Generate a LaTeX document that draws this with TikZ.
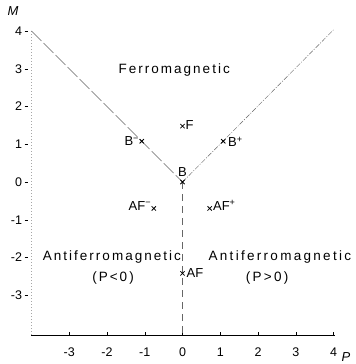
\documentclass[tikz,border=0pt]{standalone}
\usepackage{fontspec}
\setmainfont{Liberation Sans}
\newfontfamily\spacedfont[LetterSpace=15]{Liberation Sans}
\newfontfamily\widerfont[LetterSpace=17]{Liberation Sans}
\usetikzlibrary{shapes.misc}
\begin{document}
\begin{tikzpicture}[x=37.75pt,y=37.75pt,
  lab/.style={font=\fontsize{13}{13}\selectfont, inner sep=1pt},
  region/.style={font=\fontsize{13.5}{14}\spacedfont, inner sep=0pt},
  regionw/.style={font=\fontsize{13.5}{14}\widerfont, inner sep=0pt},
  ticklab/.style={font=\fontsize{12.5}{13}\selectfont, inner sep=1pt},
  pt/.style={cross out, draw, thick, minimum size=3.5pt, inner sep=0pt},
  axisline/.style={line width=0.5pt},
  bound/.style={line width=0.45pt, gray!80!black}]
\useasboundingbox (-4.834,-4.821) rectangle (4.596,4.821);
% axes
\coordinate (xa) at (-4.0,-4.05);
\coordinate (xb) at (4.03,-4.05);
\coordinate (ya) at (-4.0,-4.05);
\coordinate (yb) at (-4.0,4.0);
\draw[axisline] (xa) -- (xb);
\draw[line width=0.35pt, gray!70, dash pattern=on 1pt off 2pt] (ya) -- (yb);
\foreach \v in {-3,...,4} {
  \draw[line width=0.4pt] (\v,-4.05) -- (\v,-3.98);
  \node[ticklab] (tx\v) at (\v,-4.5) {\ifnum\v<0 -\the\numexpr-\v\relax\else\v\fi};
}
\foreach \v in {-3,...,4} {
  \draw[line width=0.4pt] (-4.18,\v) -- (-4.08,\v);
  \node[ticklab, anchor=east] (ty\v) at (-4.22,\v) {\ifnum\v<0 -\the\numexpr-\v\relax\else\v\fi};
}
\node[font=\fontsize{13}{13}\selectfont\itshape, inner sep=0pt] (Mlab) at (-4.49,4.52) {M};
\node[font=\fontsize{13}{13}\selectfont\itshape, inner sep=0pt] (Plab) at (4.33,-4.64) {P};
% phase boundaries
\coordinate (tl) at (-4.0,4.0);
\coordinate (O) at (0,0);
\coordinate (tr) at (4.0,4.03);
\coordinate (bot) at (0,-4.05);
\draw[bound, dash pattern=on 14pt off 3pt] (tl) -- (O);
\draw[bound, dash pattern=on 5pt off 1.5pt on 1pt off 1.5pt] (O) -- (tr);
\draw[bound, dash pattern=on 7pt off 5pt] (O) -- (bot);
% region labels
\node[region] (ferro) at (-0.22,2.97) {Ferromagnetic};
\node[region] (afl) at (-1.87,-2.0) {Antiferromagnetic};
\node[region] (afln) at (-1.84,-2.54) {(P<0)};
\node[regionw] (afr) at (2.58,-1.99) {Antiferromagnetic};
\node[regionw] (afrn) at (2.24,-2.54) {(P>0)};
% points
\node[pt] (pB) at (0,0) {};
\node[lab, anchor=south] (lB) at (0,0.12) {B};
\node[pt] (pF) at (0,1.48) {};
\node[lab, anchor=west] (lF) at (0.05,1.52) {F};
\node[pt] (pBm) at (-1.08,1.08) {};
\node[lab, anchor=east] (lBm) at (-1.12,1.08) {B\textsuperscript{−}};
\node[pt] (pBp) at (1.08,1.08) {};
\node[lab, anchor=west] (lBp) at (1.18,1.06) {B\textsuperscript{+}};
\node[pt] (pAFm) at (-0.76,-0.7) {};
\node[lab, anchor=south east] (lAFm) at (-0.8,-0.78) {AF\textsuperscript{−}};
\node[pt] (pAFp) at (0.72,-0.7) {};
\node[lab, anchor=south west] (lAFp) at (0.78,-0.78) {AF\textsuperscript{+}};
\node[pt] (pAF) at (0,-2.42) {};
\node[lab, anchor=west] (lAF) at (0.08,-2.42) {AF};
\end{tikzpicture}
\end{document}
